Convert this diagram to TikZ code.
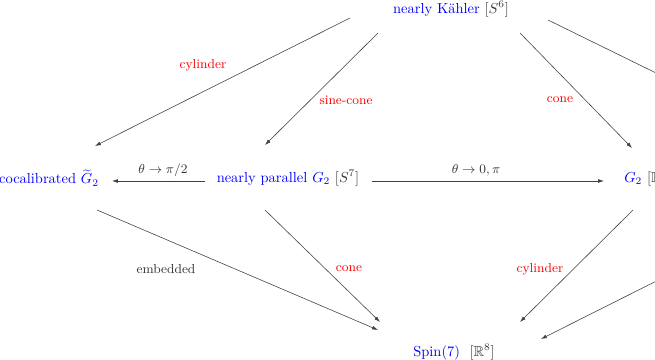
\documentclass[tikz,border=0pt]{standalone}
\usepackage{amssymb}
\usetikzlibrary{calc,arrows.meta}
\begin{document}
\begin{tikzpicture}[x=0.69pt,y=-0.69pt,
  obj/.style={inner sep=0pt, text=blue},
  arr/.style={draw=black!75, line width=0.4pt, -{Latex[length=4pt,width=2.6pt]}},
  lab/.style={inner sep=0pt, font=\small, text=red},
  blab/.style={inner sep=0pt, font=\small, text=black!80},
]
\useasboundingbox (0,0) rectangle (655,360);
\clip (0,0) rectangle (655,360);
\node[obj] (nk) at (451,9) {nearly K\"ahler \textcolor{black!80}{$[S^6]$}};
\node[obj] (cg) at (49,178) {cocalibrated $\widetilde{G}_2$};
\node[obj] (np) at (288,178) {nearly parallel $G_2$ \textcolor{black!80}{$[S^7]$}};
\node[obj, anchor=west] (g2) at (624,178) {$G_2$ \textcolor{black!80}{$[\mathbb{R}^7]$}};
\node[obj] (sp) at (454,352) {Spin$(7)$\ \ \textcolor{black!80}{$[\mathbb{R}^8]$}};
\coordinate (offA) at (760,124);
\coordinate (offB) at (760,229);

\draw[arr] ($(nk)+(-101,9)$) -- ($(cg)+(46,-32)$);
\draw[arr] ($(nk)+(-73,24)$) -- ($(np)+(-23,-33)$);
\draw[arr] ($(nk)+(69,24)$) -- ($(g2.west)+(8,-30)$);
\draw[arr] ($(nk)+(97,11)$) -- (offA);
\draw[arr] ($(np)+(-83,3)$) -- ($(cg)+(63,3)$);
\draw[arr] ($(np)+(84,3)$) -- ($(g2.west)+(-20,3)$);
\draw[arr] ($(cg)+(48,32)$) -- ($(sp)+(-76,-22)$);
\draw[arr] ($(np)+(-23,32)$) -- ($(sp)+(-74,-30)$);
\draw[arr] ($(g2.west)+(9,32)$) -- ($(sp)+(66,-30)$);
\draw[arr] (offB) -- ($(sp)+(87,-13)$);

\node[lab] (l1) at (203,65) {cylinder};
\node[lab] (l2) at (346,100) {sine-cone};
\node[lab] (l3) at (560,100) {cone};
\node[blab] (l4) at (163,170) {$\theta\to\pi/2$};
\node[blab] (l5) at (476,170) {$\theta\to0,\pi$};
\node[blab] (l6) at (166,269) {embedded};
\node[lab] (l7) at (349,269) {cone};
\node[lab] (l8) at (540,269) {cylinder};
\end{tikzpicture}
\end{document}
